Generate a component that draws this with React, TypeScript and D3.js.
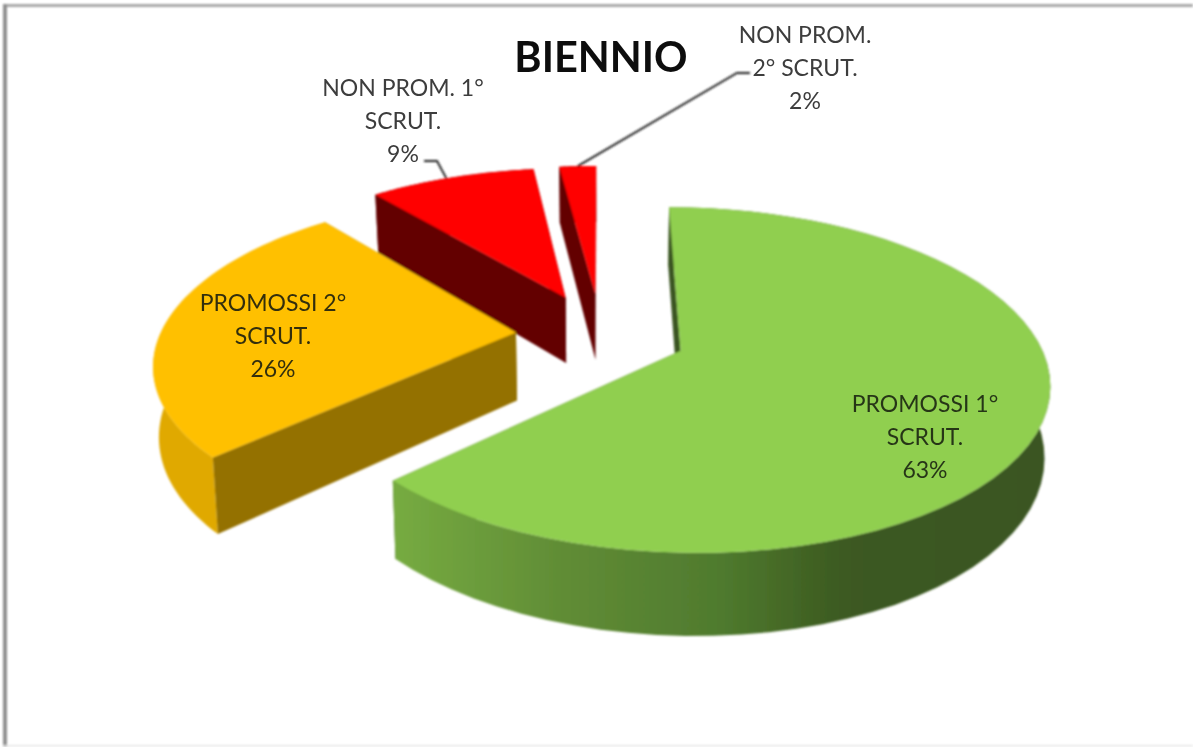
import * as d3 from 'd3';

// Values
const categories = ['PROMOSSI 1° SCRUT.', 'PROMOSSI 2° SCRUT.', 'NON PROM. 1° SCRUT.', 'NON PROM. 2° SCRUT.'];
const shares = [63, 26, 9, 2];
const explosions = [0.24, 0.24, 0.26, 0.26];
const labelLines = [
  ['PROMOSSI 1°', 'SCRUT.', '63%'],
  ['PROMOSSI 2°', 'SCRUT.', '26%'],
  ['NON PROM. 1°', 'SCRUT.', '9%'],
  ['NON PROM.', '2° SCRUT.', '2%'],
];
const topColors = ['#90cf50', '#ffc000', '#ff0000', '#ff0000'];
const wallColors = ['#3a5520', '#947100', '#630000', '#630000'];
const rimColors = ['url(#greenRim)', '#e0a900', '#630000', '#630000'];
const labelColors = ['#263619', '#332f0c', '#3c3c3c', '#3c3c3c'];

// Where each label sits (center x, first line y)
const labelX = [925, 273, 403, 805];
const labelY = [412, 311, 96, 43];
const lineGap = 33;

const width = 1193;
const height = 747;

// Projection constants of the tilted pie
const cx = 601;
const cy = 335;
const kx = 356;
const ky = 162.5;
const kz = 68;
const persp = 0.167;

type Pt = [number, number];

const xScale = d3.scaleLinear().domain([0, 1]).range([0, kx]);
const yScale = d3.scaleLinear().domain([0, 1]).range([0, ky]);

function project(X: number, Y: number, Z: number): Pt {
  const s = 1 / (1 - persp * Y);
  return [cx + xScale(X) * s * (1 - 0.013 * Z), cy + yScale(Y) * s + kz * s * Z];
}

const pieAngles = d3.pie<number>().sort(null).startAngle(0).endAngle(2 * Math.PI)(shares);
const toPath = d3.line<Pt>();

function sliceGeometry(i: number) {
  const a0 = pieAngles[i].startAngle;
  const a1 = pieAngles[i].endAngle;
  const mid = (a0 + a1) / 2;
  const ox = Math.sin(mid) * explosions[i];
  const oy = -Math.cos(mid) * explosions[i];
  const steps = d3.range(0, 61).map(k => a0 + ((a1 - a0) * k) / 60);
  const arcAt = (z: number) => steps.map(a => project(ox + Math.sin(a), oy - Math.cos(a), z));
  const apex = (z: number) => project(ox, oy, z);
  const topArc = arcAt(0);
  const botArc = arcAt(1);
  const top = toPath([apex(0), ...topArc])! + 'Z';
  const rim = toPath([...topArc, ...[...botArc].reverse()])! + 'Z';
  const wallA = toPath([apex(0), topArc[0], botArc[0], apex(1)])! + 'Z';
  const wallB = toPath([apex(0), topArc[60], botArc[60], apex(1)])! + 'Z';
  return { top, rim, wallA, wallB, topArc };
}

// Back to front
const drawOrder = [3, 2, 1, 0];

export default function App() {
  const geo = shares.map((_, i) => sliceGeometry(i));
  const anchor9 = geo[2].topArc[28];
  const anchor2 = geo[3].topArc[30];

  return (
    <svg
      width={width}
      height={height}
      style={{ position: 'absolute', left: 0, top: 0, display: 'block', background: '#fff' }}
    >
      <defs>
        <linearGradient id="greenRim" gradientUnits="userSpaceOnUse" x1={395} x2={1050} y1={0} y2={0}>
          <stop offset="0" stopColor="#76ab41" />
          <stop offset="0.25" stopColor="#618d36" />
          <stop offset="0.5" stopColor="#4f7a2e" />
          <stop offset="0.68" stopColor="#3c5a20" />
          <stop offset="1" stopColor="#3a5520" />
        </linearGradient>
        <filter id="soft" x="-5%" y="-5%" width="110%" height="110%">
          <feGaussianBlur stdDeviation="0.8" />
        </filter>
        <filter id="softText" x="-5%" y="-5%" width="110%" height="110%">
          <feGaussianBlur stdDeviation="0.55" />
        </filter>
      </defs>

      <g filter="url(#soft)">
        <rect x={3} y={4} width={width - 3} height={3} fill="#a8a8a8" />
        <rect x={3} y={4} width={4} height={height - 4} fill="#8f8f8f" />
        <rect x={3} y={745} width={width - 3} height={1.5} fill="#e4e4e4" />

        {drawOrder.map(i => (
          <g key={categories[i]}>
            <path d={geo[i].wallB} fill={wallColors[i]} />
            <path d={geo[i].rim} fill={rimColors[i]} />
            <path d={geo[i].wallA} fill={wallColors[i]} />
            <path d={geo[i].top} fill={topColors[i]} />
          </g>
        ))}

        <path d={toPath([[424, 161], [437, 161], anchor9])!} fill="none" stroke="#222" strokeWidth={2} />
        <path d={toPath([[750, 73], [737, 73], anchor2])!} fill="none" stroke="#222" strokeWidth={2} />
      </g>

      <g filter="url(#softText)">
        <text
          x={601}
          y={72}
          textAnchor="middle"
          fontFamily="Lato"
          fontWeight="bold"
          fontSize={41.5}
          fill="#0c0c0c"
        >
          BIENNIO
        </text>

        {labelLines.map((lines, i) =>
          lines.map((line, j) => (
            <text
              key={line + i}
              x={labelX[i]}
              y={labelY[i] + j * lineGap}
              textAnchor="middle"
              fontFamily="Lato"
              fontSize={23}
              fill={labelColors[i]}
            >
              {line}
            </text>
          ))
        )}
      </g>
    </svg>
  );
}
